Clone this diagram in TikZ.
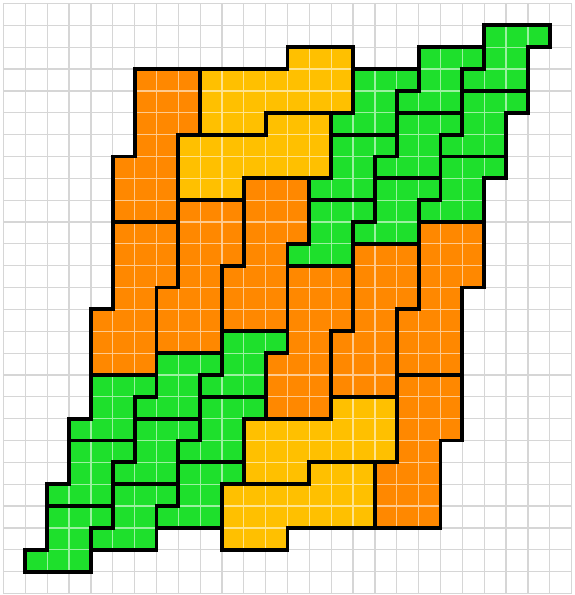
\documentclass[tikz,border=0pt]{standalone}
\definecolor{tileorange}{RGB}{255,136,0}
\definecolor{tileyellow}{RGB}{255,192,0}
\definecolor{tilegreen}{RGB}{30,224,44}
\definecolor{gridgray}{RGB}{214,214,214}

% piece outlines, (column,row) of the bounding box corner, rows counted downwards
\newcommand{\tallpiece}[2]{(#1+1,#2) -- ++(3,0) -- ++(0,3) -- ++(-1,0) -- ++(0,4) -- ++(-3,0) -- ++(0,-3) -- ++(1,0) -- cycle}
\newcommand{\widepiece}[2]{(#1,#2+1) -- ++(4,0) -- ++(0,-1) -- ++(3,0) -- ++(0,3) -- ++(-4,0) -- ++(0,1) -- ++(-3,0) -- cycle}
\newcommand{\smallpiece}[2]{(#1+1,#2) -- ++(3,0) -- ++(0,1) -- ++(-1,0) -- ++(0,2) -- ++(-3,0) -- ++(0,-1) -- ++(1,0) -- cycle}

\newcommand{\talllist}{5/3, 4/10, 7/9, 10/8, 12/12, 15/11, 18/10, 17/17}
\newcommand{\widelist}{9/2, 8/5, 11/18, 10/21}
\newcommand{\smalllist}{21/1, 20/4, 19/7, 18/2, 17/5, 16/8, 15/3, 14/6, 13/9,
  3/17, 2/20, 1/23, 6/16, 5/19, 4/22, 9/15, 8/18, 7/21}

\begin{document}
\begin{tikzpicture}[x=0.5cm, y=-0.5cm,
  bggrid/.style={draw=gridgray, line width=0.8pt, step=0.5cm},
  tilegrid/.style={draw=white!55!#1, line width=0.8pt, step=0.5cm},
  outline/.style={draw=black, line width=2.5pt, line join=miter}
]
\useasboundingbox (-0.16,-0.16) rectangle (26.11,27.07);
\draw[bggrid] (0,0) grid (26,27);

% fills, each with its own light grid
\foreach \c/\r in \talllist {
  \begin{scope}
    \clip \tallpiece{\c}{\r};
    \fill[tileorange] (0,0) rectangle (26,27);
    \draw[tilegrid=tileorange] (0,0) grid (26,27);
  \end{scope}
}
\foreach \c/\r in \widelist {
  \begin{scope}
    \clip \widepiece{\c}{\r};
    \fill[tileyellow] (0,0) rectangle (26,27);
    \draw[tilegrid=tileyellow] (0,0) grid (26,27);
  \end{scope}
}
\foreach \c/\r in \smalllist {
  \begin{scope}
    \clip \smallpiece{\c}{\r};
    \fill[tilegreen] (0,0) rectangle (26,27);
    \draw[tilegrid=tilegreen] (0,0) grid (26,27);
  \end{scope}
}

% borders
\foreach \c/\r in \talllist
  \draw[outline] \tallpiece{\c}{\r};
\foreach \c/\r in \widelist
  \draw[outline] \widepiece{\c}{\r};
\foreach \c/\r in \smalllist
  \draw[outline] \smallpiece{\c}{\r};
\end{tikzpicture}
\end{document}
